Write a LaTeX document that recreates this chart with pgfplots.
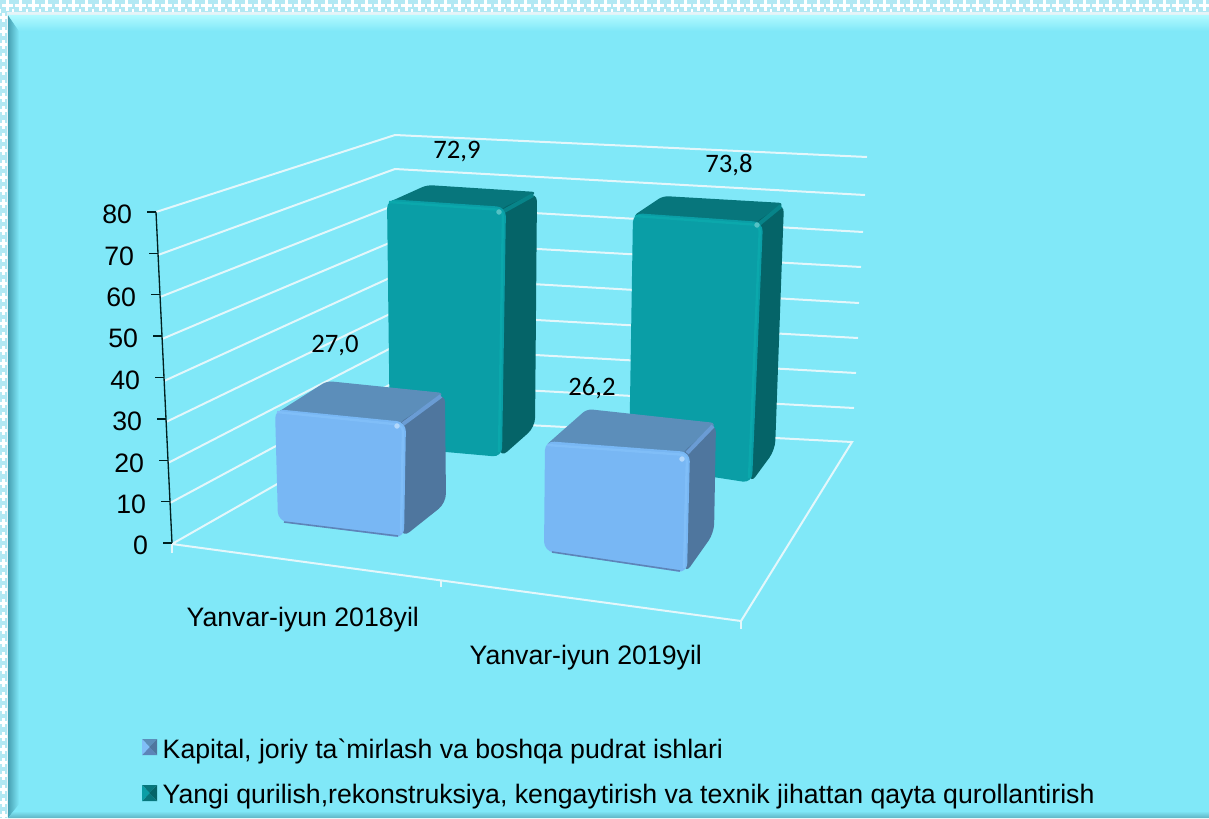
\documentclass[border=0pt]{standalone}
\usepackage{pgfplots}
\pgfplotsset{compat=1.18}
\usepackage{fontspec}
\setmainfont{Liberation Sans}
\newfontfamily\nolig{Liberation Sans}
\newfontfamily\calib{Carlito}
\definecolor{bg}{HTML}{80E8F8}
\definecolor{gridc}{HTML}{E4F7FB}
\definecolor{tf}{HTML}{0A9EA6}
\definecolor{tt}{HTML}{07767C}
\definecolor{ts}{HTML}{056468}
\definecolor{th}{HTML}{0BA8AC}
\definecolor{tb}{HTML}{078489}
\definecolor{bf}{HTML}{78B7F4}
\definecolor{bt}{HTML}{5C8EBA}
\definecolor{bs}{HTML}{4F769E}
\definecolor{bh}{HTML}{80BEF8}
\definecolor{bd}{HTML}{5D84B8}
\definecolor{bb}{HTML}{6A9CD4}
\newcommand{\poly}[3][7pt]{\addplot[fill=#2,draw=none,rounded corners=#1,forget plot] coordinates {#3} --cycle;}
\newcommand{\edge}[3][1.8pt]{\addplot[draw=#2,line width=#1,rounded corners=5pt,forget plot,no markers] coordinates {#3};}
\newcommand{\spot}[3]{\addplot[only marks,mark=*,mark size=1.8pt,color=#1,forget plot] coordinates {(#2,#3)};}
\newcommand{\gl}[1]{\addplot[gridc,line width=1.5pt,forget plot,no markers] coordinates {#1};}
\newcommand{\lab}[3]{\node[font=\calib\fontsize{20}{24}\selectfont,text=black] at (axis cs:#1,#2) {#3};}
\newcommand{\txt}[3]{\node[font=\fontsize{20}{24}\selectfont,text=black,anchor=west] at (axis cs:#1,#2) {#3};}
\begin{document}
\begin{tikzpicture}
\useasboundingbox (0,0) rectangle (906.75pt,613.5pt);
\begin{scope}[x=0.75pt,y=-0.75pt,yshift=613.5pt]
\clip (0,0) rectangle (1209,818);
\fill[color={rgb,255:red,178;green,232;blue,243}] (0,0) rectangle (1209,818);
\foreach \i in {0,...,91}{
  \fill[white] ({\i*13.3+7-1.5},0) rectangle ({\i*13.3+7+1.5},11);
  \fill[white] ({\i*13.3+7-5.5},4) rectangle ({\i*13.3+7+5.5},7);
  \fill[white] ({\i*13.3-1},9) rectangle ({\i*13.3+1},13);
}
\foreach \j in {1,...,61}{
  \fill[white] (1.5,{\j*13.3}) rectangle (4.5,{\j*13.3+9});
  \fill[white] (0,{\j*13.3+3}) rectangle (6.5,{\j*13.3+6});
}
\fill[color={rgb,255:red,230;green,244;blue,248}] (6.5,12.5) rectangle (1209,818);
\fill[bg] (8,15) rectangle (1209,818);
\shade[left color={rgb,255:red,70;green,160;blue,178},right color=bg] (8,15) -- (19,31) -- (19,804) -- (8,818) -- cycle;
\shade[top color={rgb,255:red,178;green,250;blue,255},bottom color=bg] (8,15) -- (1209,15) -- (1209,31) -- (19,31) -- cycle;
\shade[bottom color={rgb,255:red,95;green,180;blue,195},top color=bg] (8,818) -- (1209,818) -- (1209,811) -- (14,811) -- cycle;
\end{scope}
\begin{axis}[at={(0,0)},anchor=south west,scale only axis,width=906.75pt,height=613.5pt,
  xmin=0,xmax=1209,ymin=0,ymax=818,y dir=reverse,hide axis]
% floor
\gl{(172,544) (741,621) (852,442) (393,418) (172,544)}
\gl{(172,544) (172,553)}
\gl{(441,580) (441,587)}
\gl{(741,621) (741,629)}
% wall lines: left axis, back corner, right end
\gl{(156,212) (395,135) (867,157)}
\gl{(158,255) (395,169) (865,195)}
\gl{(160,297) (395,205) (863,232)}
\gl{(162,339) (394,241) (861,267)}
\gl{(164,381) (394,276) (859,303)}
\gl{(166,422) (394,312) (858,338)}
\gl{(168,463) (393,347) (856,373)}
\gl{(170,503) (393,383) (854,408)}
% teal bar 2018
\poly[4pt]{tt}{(387,203) (427,185) (537,192) (506,214)}
\poly{ts}{(498,210) (537,192) (535,427) (500,458)}
\edge[3pt]{tb}{(504,211) (533,195)}
\poly{tf}{(387,199) (506,207) (502,457) (390,447)}
\edge{th}{(389,202) (503,210) (499,452)}
\spot{th!70!white}{499}{212}
% teal bar 2019
\poly[4pt]{tt}{(633,216) (663,196) (784,203) (763,228)}
\poly{ts}{(752,225) (784,203) (775,450) (750,484)}
\edge[3pt]{tb}{(759,224) (781,206)}
\poly{tf}{(633,213) (763,222) (752,483) (629,464)}
\edge{th}{(635,216) (760,225) (749,478)}
\spot{th!70!white}{757}{225}
% blue bar 2018
\poly[4pt]{bt}{(275,414) (327,381) (444,393) (406,428)}
\poly{bs}{(396,425) (445,393) (446,503) (402,538)}
\edge[3pt]{bb}{(403,424) (441,396)}
\poly{bf}{(275,409) (406,422) (404,538) (278,521)}
\edge{bh}{(277,412) (403,425) (401,533)}
\edge[1.2pt]{bd}{(284,522) (398,536)}
\spot{bh!60!white}{397}{426}
% blue bar 2019
\poly[4pt]{bt}{(545,446) (587,409) (716,423) (690,458)}
\poly{bs}{(680,455) (716,423) (714,533) (685,574)}
\edge[3pt]{bb}{(687,453) (713,426)}
\poly{bf}{(545,441) (690,452) (687,573) (544,551)}
\edge{bh}{(547,445) (687,455) (684,568)}
\edge[1.2pt]{bd}{(552,552) (680,571)}
\spot{bh!60!white}{682}{459}
% data labels
\lab{457}{152}{72,9}
\lab{729}{165}{73,8}
\lab{335}{346}{27,0}
\lab{592}{388}{26,2}
% category labels
\txt{182}{620}{Yanvar-iyun 2018yil}
\txt{465}{658}{Yanvar-iyun 2019yil}
% legend
\poly[0pt]{bt}{(142,739) (157,739) (149.5,747)}
\poly[0pt]{bd}{(142,755) (157,755) (149.5,747)}
\poly[0pt]{bh}{(142,739) (142,755) (149.5,747)}
\poly[0pt]{bs}{(157,739) (157,755) (149.5,747)}
\poly[0pt]{tt}{(142,785) (157,785) (149.5,793)}
\poly[0pt]{tt}{(142,801) (157,801) (149.5,793)}
\poly[0pt]{tf}{(142,785) (142,801) (149.5,793)}
\poly[0pt]{ts}{(157,785) (157,801) (149.5,793)}
\txt{158}{751}{Kapital, joriy ta{\nolig `}mirlash va boshqa pudrat ishlari}
\txt{158}{797}{Yangi qurilish,rekonstruksiya, kengaytirish va texnik jihattan qayta qurollantirish}
\end{axis}
% value axis, skewed like the reference
\begin{axis}[at={(129pt,206.25pt)},anchor=origin,x={(1pt,0pt)},y={(-0.15pt,3.103pt)},
  xmin=0,xmax=1,ymin=0,ymax=80,ytick={0,10,...,80},
  axis x line=none,axis y line*=left,
  y axis line style={color=black!75!teal,line width=1pt,-},
  ytick style={color=black!75!teal,line width=1pt},
  tick align=outside,major tick length=6.5pt,
  /pgf/number format/assume math mode=true,
  yticklabel style={font=\fontsize{20}{24}\selectfont,text=black,xshift=-8pt,yshift=-2pt}]
\addplot[draw=none,forget plot] coordinates {(0,0) (0,80)};
\end{axis}
\end{tikzpicture}
\end{document}
